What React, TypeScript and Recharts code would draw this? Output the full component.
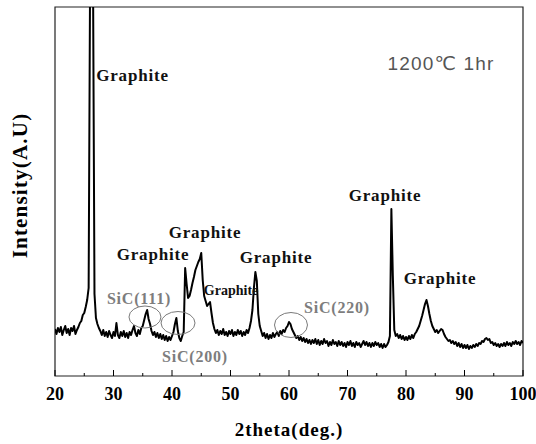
import React from 'react';
import { LineChart, Line, XAxis, YAxis, ReferenceDot, ReferenceArea, Label } from 'recharts';

// 2theta grid: start and instrument step (degrees)
const THETA_START = 20;
const THETA_STEP = 0.25;

// Intensity (arbitrary units), one value per 0.25 deg
const intensity20to40 = [
  47, 42, 48, 44, 49, 41, 46, 50, 43, 47, 41, 48, 45, 50, 42, 46, 49, 53, 55, 61,
  63, 69, 76, 88, 400, 900, 400, 82, 58, 52, 48, 45, 41, 46, 40, 44, 39, 45, 41, 38,
  44, 40, 53, 41, 38, 44, 40, 45, 39, 43, 38, 44, 41, 46, 50, 43, 40, 46, 42, 48,
  50, 56, 62, 66, 57, 52, 45, 41, 44, 39, 43, 38, 42, 37, 41, 36, 40, 35, 39, 36,
];
const intensity40to60 = [
  40, 44, 52, 58, 45, 38, 35, 40, 44, 108, 92, 78, 80, 86, 93, 99, 106, 110, 114, 117,
  123, 96, 80, 75, 70, 72, 74, 63, 53, 47, 43, 46, 41, 45, 42, 47, 41, 44, 40, 45,
  42, 46, 40, 44, 41, 46, 42, 45, 40, 44, 41, 46, 43, 48, 55, 66, 88, 104, 95, 62,
  50, 45, 40, 43, 38, 42, 37, 41, 38, 43, 39, 42, 44, 40, 45, 42, 46, 44, 48, 50,
];
const intensity60to80 = [
  54, 52, 47, 44, 41, 38, 40, 36, 39, 35, 38, 34, 37, 33, 36, 32, 36, 33, 37, 32,
  36, 31, 35, 32, 37, 33, 35, 30, 34, 31, 36, 32, 34, 30, 35, 31, 34, 30, 33, 29,
  34, 31, 35, 30, 33, 29, 34, 31, 33, 29, 32, 35, 31, 34, 30, 33, 29, 33, 30, 34,
  31, 33, 29, 32, 28, 32, 29, 31, 34, 40, 167, 100, 46, 40, 42, 38, 41, 37, 40, 36,
];
const intensity80to100 = [
  39, 36, 40, 37, 41, 38, 42, 44, 47, 50, 55, 60, 66, 72, 76, 70, 62, 55, 50, 47,
  44, 46, 43, 45, 47, 46, 42, 39, 37, 35, 36, 33, 35, 32, 34, 30, 33, 29, 32, 28,
  31, 28, 31, 27, 30, 28, 31, 29, 32, 30, 33, 32, 35, 34, 37, 38, 36, 37, 33, 34,
  31, 33, 30, 32, 29, 32, 30, 33, 30, 34, 31, 33, 30, 34, 32, 35, 32, 34, 31, 35,
  33,
];

const xTicks = [20, 25, 30, 35, 40, 45, 50, 55, 60, 65, 70, 75, 80, 85, 90, 95, 100];
const majorTickLabels = [20, 30, 40, 50, 60, 70, 80, 90, 100];

// Peak annotations (anchor in data space: 2theta, intensity level)
const graphiteLabels = [
  { theta: 33.25, level: 301, text: 'Graphite', small: false },
  { theta: 36.75, level: 122, text: 'Graphite', small: false },
  { theta: 45.64, level: 144, text: 'Graphite', small: false },
  { theta: 50.1, level: 86, text: 'Graphite', small: true },
  { theta: 57.78, level: 119, text: 'Graphite', small: false },
  { theta: 76.41, level: 181, text: 'Graphite', small: false },
  { theta: 85.81, level: 98, text: 'Graphite', small: false },
];
const sicLabels = [
  { theta: 34.36, level: 78, text: 'SiC(111)' },
  { theta: 43.93, level: 20, text: 'SiC(200)' },
  { theta: 68.21, level: 69, text: 'SiC(220)' },
];
const sicCircles = [
  { theta: 35.38, level: 59, rx: 16, ry: 11 },
  { theta: 41.03, level: 53, rx: 17, ry: 11.5 },
  { theta: 60.34, level: 51, rx: 16.5, ry: 12.5 },
];
const conditionNote = { theta: 85.98, level: 313, text: '1200\u2103 1hr' };

const data = [...intensity20to40, ...intensity40to60, ...intensity60to80, ...intensity80to100].map(
  (v, i) => ({ theta: THETA_START + i * THETA_STEP, intensity: v })
);

const SERIF = '"Liberation Serif", "Times New Roman", "DejaVu Serif", serif';
const SANS = '"Liberation Sans", Arial, "DejaVu Sans", sans-serif';

const AxisTick = (props: any) => {
  const { x, y, payload } = props;
  const v = payload.value;
  const major = majorTickLabels.includes(v);
  return (
    <g>
      <line x1={x} x2={x} y1={y} y2={y - (major ? 6 : 3)} stroke="#000" strokeWidth={1} />
      {major && (
        <text x={x} y={y + 23.5} textAnchor="middle" fontFamily={SERIF} fontWeight="bold" fontSize={18} fill="#000">
          {v}
        </text>
      )}
    </g>
  );
};

export default function App() {
  return (
    <div style={{ position: 'absolute', left: 0, top: 0, background: '#fff' }}>
      <LineChart width={536} height={444} data={data} margin={{ top: 7, right: 13, bottom: 0, left: 0 }}>
        <XAxis
          dataKey="theta"
          type="number"
          domain={[20, 100]}
          allowDataOverflow
          ticks={xTicks}
          interval={0}
          tickSize={0}
          tickMargin={0}
          tickLine={false}
          axisLine={false}
          height={68}
          tick={<AxisTick />}
        >
          <Label
            content={(p: any) => {
              const vb = p.viewBox;
              return (
                <text x={vb.x + vb.width / 2} y={vb.y + 60} textAnchor="middle" fontFamily={SERIF} fontWeight="bold" fontSize={19} letterSpacing={1} fill="#000">
                  2theta(deg.)
                </text>
              );
            }}
          />
        </XAxis>
        <YAxis
          type="number"
          domain={[0, 369]}
          allowDataOverflow
          tick={false}
          tickLine={false}
          axisLine={false}
          width={55}
        >
          <Label
            content={(p: any) => {
              const vb = p.viewBox;
              const cx = vb.x + 20;
              const cy = vb.y + vb.height / 2 - 6;
              return (
                <text x={cx} y={cy} transform={`rotate(-90, ${cx}, ${cy})`} textAnchor="middle" dominantBaseline="central" fontFamily={SERIF} fontWeight="bold" fontSize={21} letterSpacing={1.2} fill="#000">
                  Intensity(A.U)
                </text>
              );
            }}
          />
        </YAxis>
        <ReferenceArea x1={20} x2={100} y1={0} y2={369} fill="none" stroke="#222" strokeWidth={1.2} fillOpacity={0} />
        <Line type="linear" dataKey="intensity" stroke="#000" strokeWidth={2} strokeLinejoin="round" dot={false} isAnimationActive={false} />
        {sicCircles.map((c, i) => (
          <ReferenceDot
            key={'c' + i}
            x={c.theta}
            y={c.level}
            r={1}
            shape={(p: any) => <ellipse cx={p.cx} cy={p.cy} rx={c.rx} ry={c.ry} fill="none" stroke="#7a7a7a" strokeWidth={1} />}
          />
        ))}
        {graphiteLabels.map((g, i) => (
          <ReferenceDot
            key={'g' + i}
            x={g.theta}
            y={g.level}
            r={1}
            shape={(p: any) => (
              <text x={p.cx} y={p.cy} textAnchor="middle" dominantBaseline="central" fontFamily={SERIF} fontWeight="bold" fontSize={g.small ? 14 : 17} letterSpacing={g.small ? 0 : 0.8} fill="#111">
                {g.text}
              </text>
            )}
          />
        ))}
        {sicLabels.map((s, i) => (
          <ReferenceDot
            key={'s' + i}
            x={s.theta}
            y={s.level}
            r={1}
            shape={(p: any) => (
              <text x={p.cx} y={p.cy} textAnchor="middle" dominantBaseline="central" fontFamily={SERIF} fontWeight="bold" fontSize={16} letterSpacing={0.8} fill="#7d7d7d">
                {s.text}
              </text>
            )}
          />
        ))}
        <ReferenceDot
          x={conditionNote.theta}
          y={conditionNote.level}
          r={1}
          shape={(p: any) => (
            <text x={p.cx} y={p.cy} textAnchor="middle" dominantBaseline="central" fontFamily={SANS} fontSize={19} letterSpacing={1.2} fill="#555">
              {conditionNote.text}
            </text>
          )}
        />
      </LineChart>
    </div>
  );
}
